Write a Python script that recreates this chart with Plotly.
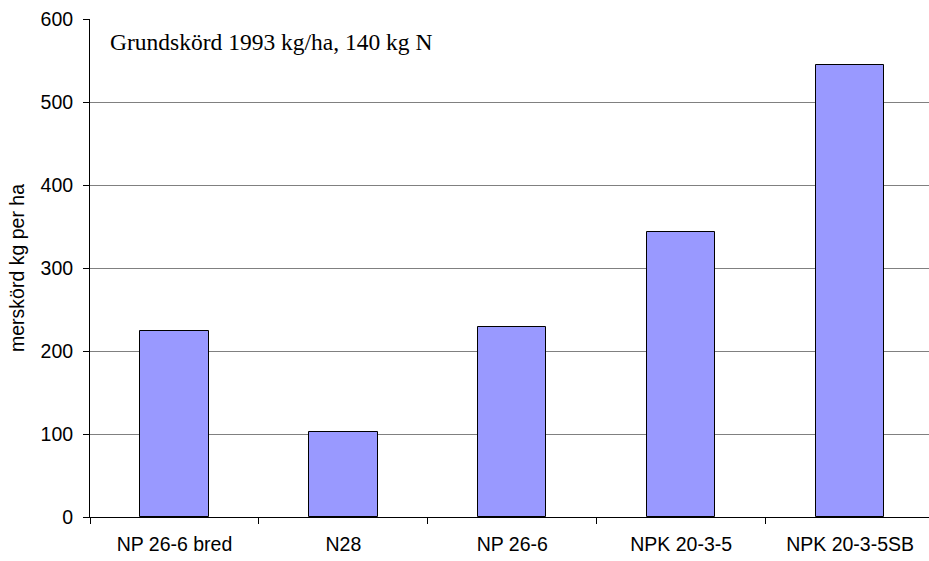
import plotly.graph_objects as go

categories = ["NP 26-6 bred", "N28", "NP 26-6", "NPK 20-3-5", "NPK 20-3-5SB"]
values = [224, 103, 229, 343, 545]
y_ticks = [0, 100, 200, 300, 400, 500, 600]

fig = go.Figure()
fig.add_trace(go.Bar(
    x=categories, y=values,
    marker=dict(color="#9999FF", line=dict(color="#000000", width=1)),
    width=0.405,
))

fig.update_layout(
    width=929, height=561,
    margin=dict(l=90, r=0, t=19, b=44),
    plot_bgcolor="white", paper_bgcolor="white",
    font=dict(family="Liberation Sans, Arial, sans-serif", size=18, color="black"),
    showlegend=False,
    bargap=0,
)
fig.update_xaxes(
    type="category", range=[-0.5, 4.467],
    showline=True, linecolor="black", linewidth=1,
    ticks="outside", tickson="boundaries", ticklen=6, tickcolor="black",
    showgrid=False, tickfont=dict(size=19.5), ticklabelstandoff=10,
)
fig.update_yaxes(
    range=[0, 600], tickvals=y_ticks,
    showline=True, linecolor="black", linewidth=1,
    ticks="outside", ticklen=6, tickcolor="black",
    showgrid=True, gridcolor="#808080", gridwidth=1,
    zeroline=False, tickfont=dict(size=19.5), ticklabelstandoff=6,
    title=dict(text="merskörd kg per ha", font=dict(size=19.5), standoff=10),
)
fig.add_annotation(
    text="Grundskörd 1993 kg/ha, 140 kg N",
    xref="paper", yref="paper", x=0.021, y=0.953,
    xanchor="left", yanchor="middle", showarrow=False,
    font=dict(family="Liberation Serif, Times New Roman, serif", size=23.5, color="black"),
)

fig.write_html("out.html", config={"displayModeBar": False},
               post_script="document.body.style.margin='0';")
